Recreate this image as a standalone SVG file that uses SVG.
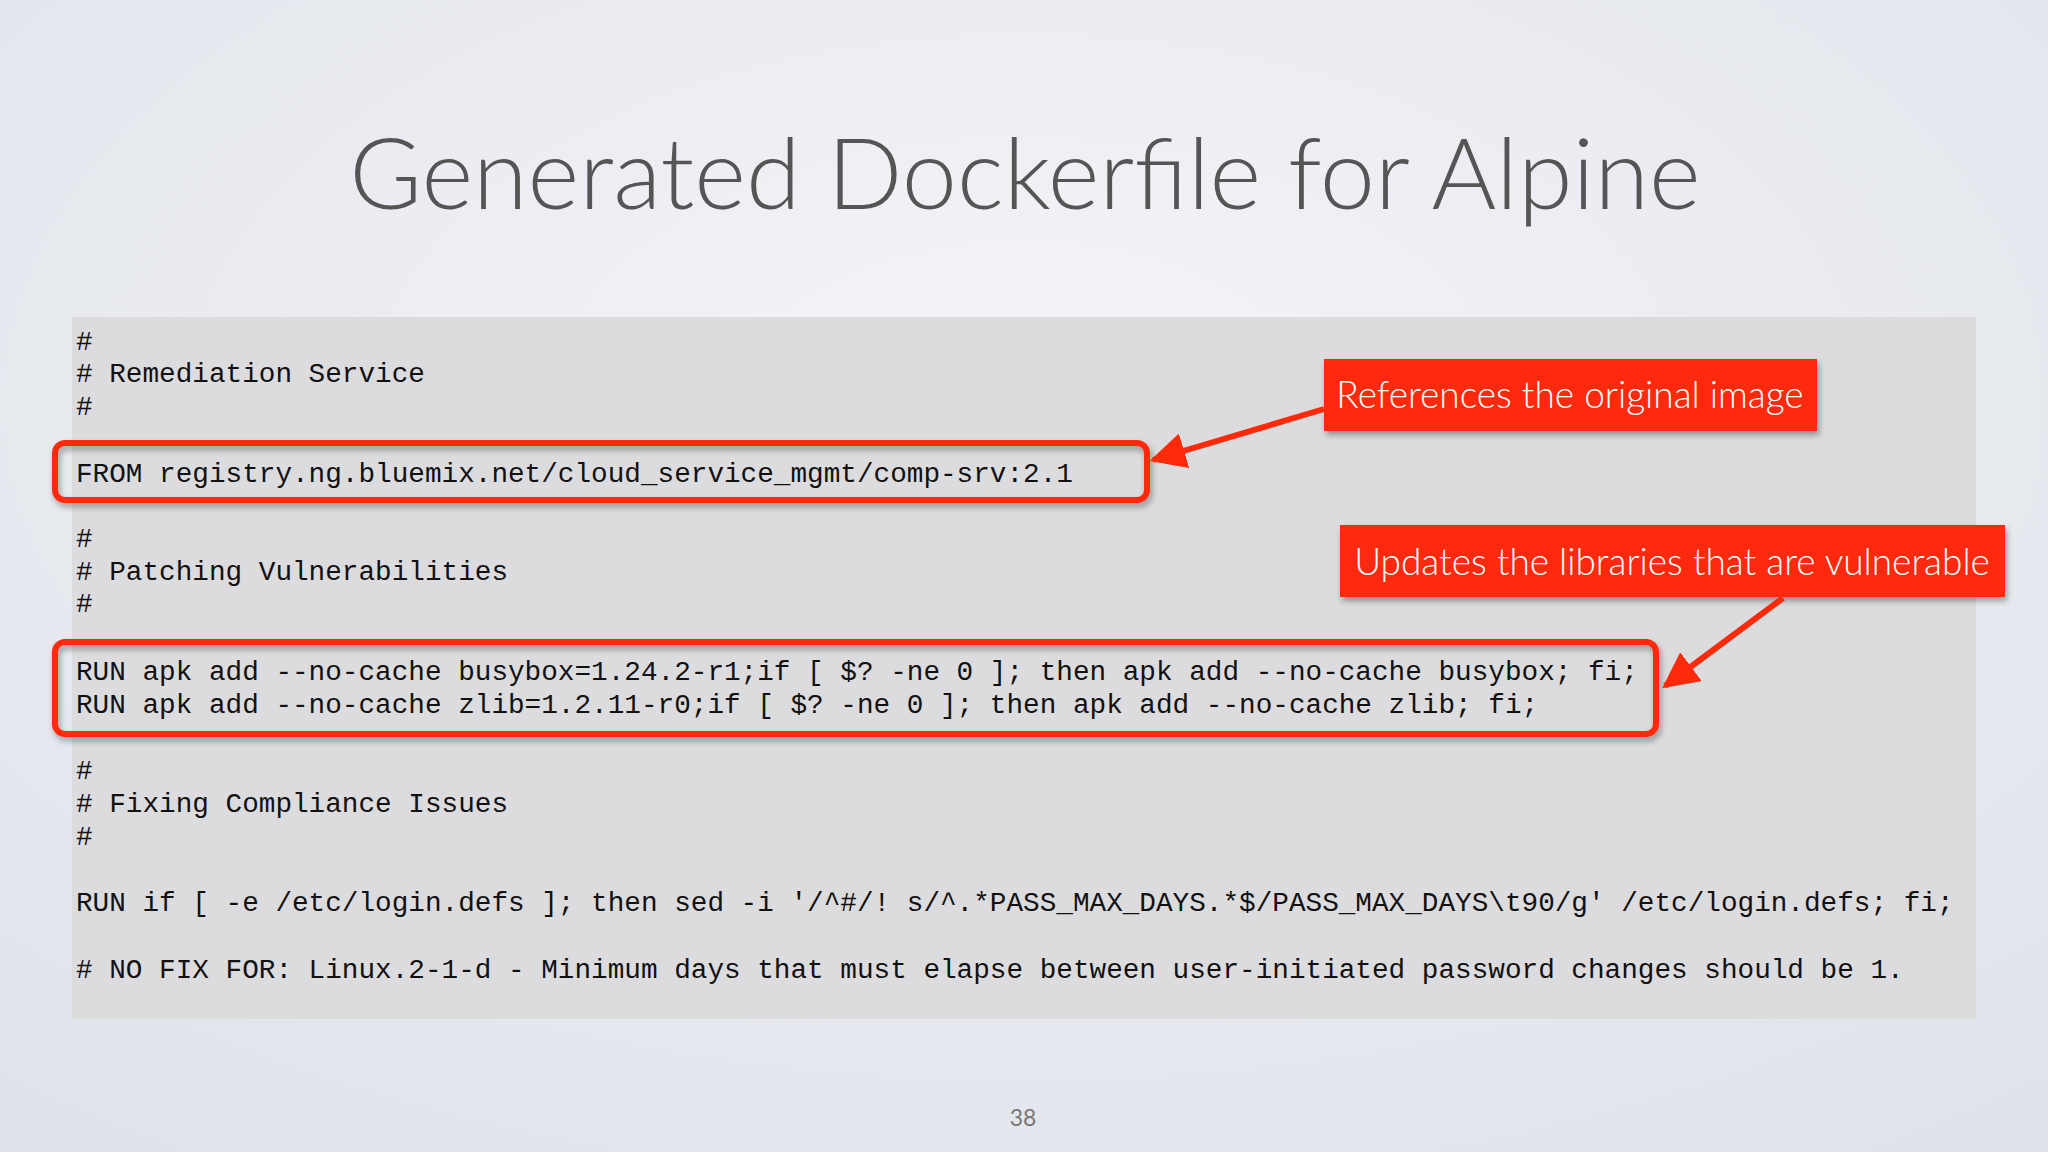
<svg xmlns="http://www.w3.org/2000/svg" width="2048" height="1152" viewBox="0 0 2048 1152">
<defs>
<radialGradient id="bg" cx="0.5" cy="0.35" r="0.8"><stop offset="0" stop-color="#f4f5f8"/><stop offset="1" stop-color="#dfe2ea"/></radialGradient>
<marker id="ah2" viewBox="0 0 10 10" refX="9" refY="5" markerWidth="36" markerHeight="36" orient="auto" markerUnits="userSpaceOnUse"><path d="M0,0 L10,5 L0,10 z" fill="#ff2a0a"/></marker>
<filter id="sh" x="-5%" y="-20%" width="110%" height="150%"><feDropShadow dx="2" dy="4" stdDeviation="3" flood-opacity="0.35"/></filter>
<style>
.code{font-family:"Liberation Mono",monospace;font-size:27.7px;fill:#111;white-space:pre}
.hl{fill:none;stroke:#ff2a0a;stroke-width:6}
.co{fill:#ff2a0a}
.ct{font-family:Lato,"Open Sans",sans-serif;font-weight:300;font-size:37px;fill:#fff;text-anchor:middle}
.arr{stroke:#ff2a0a;stroke-width:6;fill:none}
</style>
</defs>
<rect width="2048" height="1152" fill="url(#bg)"/>
<text x="1025" y="209" text-anchor="middle" font-family="Lato,'Open Sans',sans-serif" font-weight="300" font-size="99" fill="#555">Generated Dockerfile for Alpine</text>
<rect x="72" y="317" width="1904" height="702" fill="#dcdcdf"/>
<g id="code">
<text class="code" x="76" y="350">#</text>
<text class="code" x="76" y="382"># Remediation Service</text>
<text class="code" x="76" y="415">#</text>
<text class="code" x="76" y="482">FROM registry.ng.bluemix.net/cloud_service_mgmt/comp-srv:2.1</text>
<text class="code" x="76" y="547">#</text>
<text class="code" x="76" y="580"># Patching Vulnerabilities</text>
<text class="code" x="76" y="612">#</text>
<text class="code" x="76" y="680">RUN apk add --no-cache busybox=1.24.2-r1;if [ $? -ne 0 ]; then apk add --no-cache busybox; fi;</text>
<text class="code" x="76" y="713">RUN apk add --no-cache zlib=1.2.11-r0;if [ $? -ne 0 ]; then apk add --no-cache zlib; fi;</text>
<text class="code" x="76" y="779">#</text>
<text class="code" x="76" y="812"># Fixing Compliance Issues</text>
<text class="code" x="76" y="845">#</text>
<text class="code" x="76" y="911">RUN if [ -e /etc/login.defs ]; then sed -i '/^#/! s/^.*PASS_MAX_DAYS.*$/PASS_MAX_DAYS\t90/g' /etc/login.defs; fi;</text>
<text class="code" x="76" y="978"># NO FIX FOR: Linux.2-1-d - Minimum days that must elapse between user-initiated password changes should be 1.</text>
</g>
<g id="box1"><rect class="hl" x="55" y="443" width="1092" height="57" rx="10" filter="url(#sh)"/></g>
<g id="box2"><rect class="hl" x="55" y="642" width="1601" height="92" rx="10" filter="url(#sh)"/></g>
<g id="callout1"><rect class="co" x="1324" y="359" width="493" height="72" filter="url(#sh)"/><text class="ct" x="1570" y="408">References the original image</text></g>
<g id="callout2"><rect class="co" x="1340" y="525" width="665" height="72" filter="url(#sh)"/><text class="ct" x="1672" y="575">Updates the libraries that are vulnerable</text></g>
<g id="connectors">
<line class="arr" x1="1324" y1="409" x2="1153" y2="460" marker-end="url(#ah2)"/>
<line class="arr" x1="1783" y1="598" x2="1665" y2="686" marker-end="url(#ah2)"/>
</g>
<text x="1023" y="1126" text-anchor="middle" font-family="Lato,sans-serif" font-size="23" fill="#777">38</text>
</svg>
